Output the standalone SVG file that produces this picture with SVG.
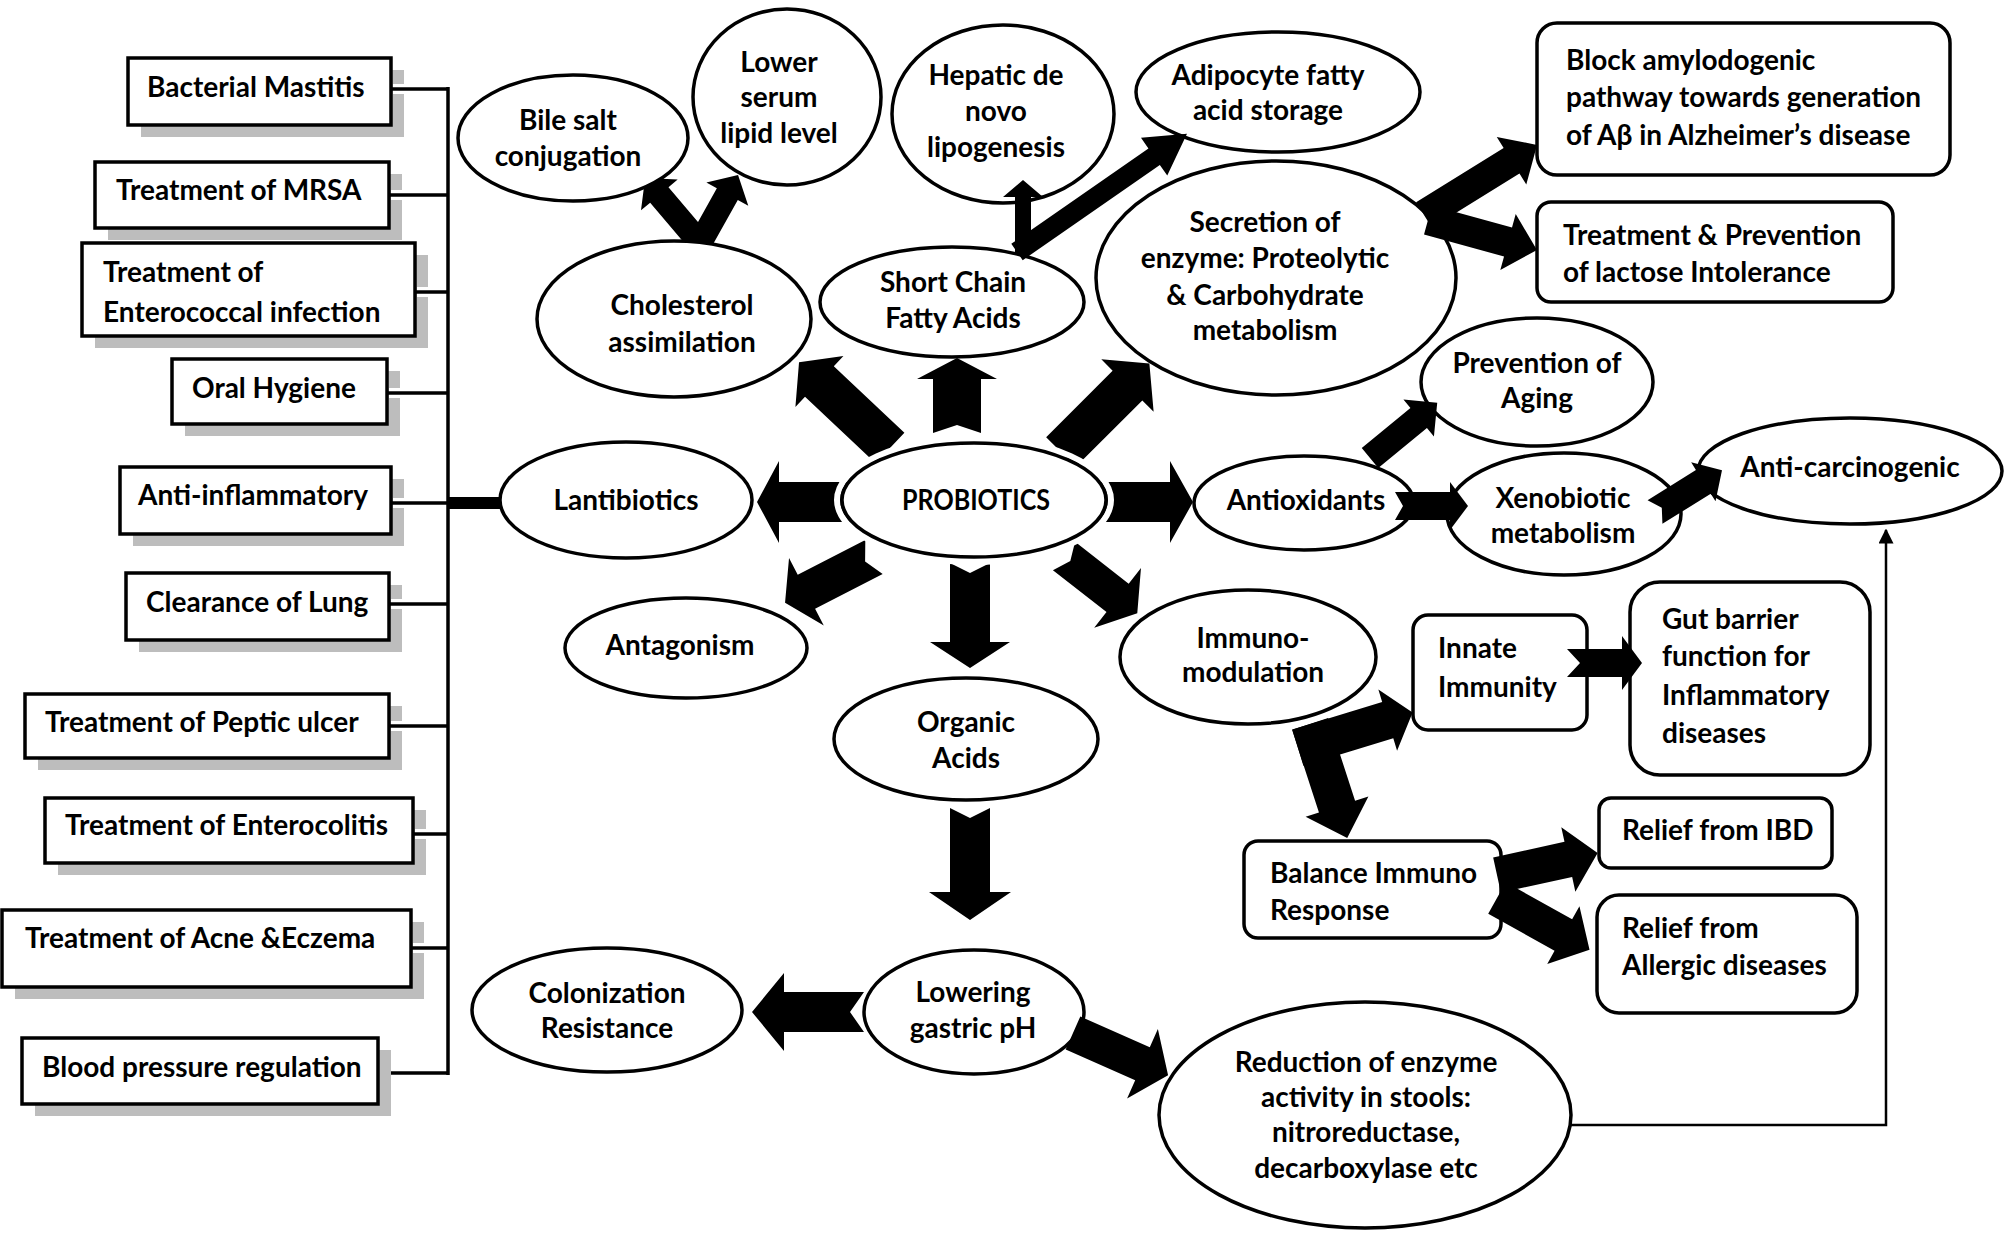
<svg xmlns="http://www.w3.org/2000/svg" width="2008" height="1233" viewBox="0 0 2008 1233">
<style>
.bx{fill:#fff;stroke:#000;stroke-width:3.5}
.rb{fill:#fff;stroke:#000;stroke-width:3.5}
.el{fill:#fff;stroke:#000;stroke-width:3.5}
.sh{fill:#bdbdbd}
.t{font-family:Lato,"Open Sans",sans-serif;font-weight:bold;font-size:28px;fill:#000}
.m{text-anchor:middle}
.ar{fill:#000}
.ln{stroke:#000;stroke-width:3.5;fill:none}
.gap{stroke:#fff;stroke-width:10}
.thin{stroke:#000;stroke-width:2.5;fill:none}
</style>
<defs>
<marker id="tri" viewBox="0 0 10 10" refX="9" refY="5" markerWidth="6" markerHeight="6" orient="auto" markerUnits="strokeWidth">
<path d="M0,0 L10,5 L0,10 Z" fill="#000"/>
</marker>
</defs>
<rect width="2008" height="1233" fill="#fff"/>

<!-- left side boxes -->
<g id="left-list">
<g id="n-mastitis"><rect class="sh" x="141" y="70" width="263" height="67"/><rect class="bx" x="128" y="58" width="263" height="67"/><text class="t" x="147" y="97">Bacterial Mastitis</text></g>
<g id="n-mrsa"><rect class="sh" x="108" y="174" width="294" height="66"/><rect class="bx" x="95" y="162" width="294" height="66"/><text class="t" x="116" y="200">Treatment of MRSA</text></g>
<g id="n-enterococcal"><rect class="sh" x="95" y="255" width="333" height="93"/><rect class="bx" x="82" y="243" width="333" height="93"/><text class="t" x="103" y="282">Treatment of</text><text class="t" x="103" y="322">Enterococcal infection</text></g>
<g id="n-oral"><rect class="sh" x="185" y="371" width="215" height="65"/><rect class="bx" x="172" y="359" width="215" height="65"/><text class="t" x="192" y="398">Oral Hygiene</text></g>
<g id="n-antiinflam"><rect class="sh" x="133" y="479" width="271" height="67"/><rect class="bx" x="120" y="467" width="271" height="67"/><text class="t" x="138" y="505">Anti-inflammatory</text></g>
<g id="n-lung"><rect class="sh" x="139" y="585" width="263" height="67"/><rect class="bx" x="126" y="573" width="263" height="67"/><text class="t" x="146" y="612">Clearance of Lung</text></g>
<g id="n-peptic"><rect class="sh" x="38" y="706" width="364" height="64"/><rect class="bx" x="25" y="694" width="364" height="64"/><text class="t" x="45" y="732">Treatment of Peptic ulcer</text></g>
<g id="n-enterocolitis"><rect class="sh" x="58" y="810" width="368" height="65"/><rect class="bx" x="45" y="798" width="368" height="65"/><text class="t" x="65" y="835">Treatment of Enterocolitis</text></g>
<g id="n-acne"><rect class="sh" x="15" y="922" width="409" height="77"/><rect class="bx" x="2" y="910" width="409" height="77"/><text class="t" x="25" y="948">Treatment of Acne &amp;Eczema</text></g>
<g id="n-bp"><rect class="sh" x="35" y="1050" width="356" height="66"/><rect class="bx" x="22" y="1038" width="356" height="66"/><text class="t" x="42" y="1077">Blood pressure regulation</text></g>
</g>

<!-- connectors drawn beneath nodes -->
<g id="connectors">
<g id="left-bracket">
<line class="gap" x1="393" y1="89" x2="405" y2="89"/><line class="ln" x1="391" y1="89" x2="448" y2="89"/>
<line class="gap" x1="391" y1="195" x2="403" y2="195"/><line class="ln" x1="389" y1="195" x2="448" y2="195"/>
<line class="gap" x1="417" y1="292" x2="429" y2="292"/><line class="ln" x1="415" y1="292" x2="448" y2="292"/>
<line class="gap" x1="389" y1="393" x2="401" y2="393"/><line class="ln" x1="387" y1="393" x2="448" y2="393"/>
<line class="gap" x1="393" y1="503" x2="405" y2="503"/><line class="ln" x1="391" y1="503" x2="448" y2="503"/>
<line class="gap" x1="391" y1="604" x2="403" y2="604"/><line class="ln" x1="389" y1="604" x2="448" y2="604"/>
<line class="gap" x1="391" y1="726" x2="403" y2="726"/><line class="ln" x1="389" y1="726" x2="448" y2="726"/>
<line class="gap" x1="415" y1="834" x2="427" y2="834"/><line class="ln" x1="413" y1="834" x2="448" y2="834"/>
<line class="gap" x1="413" y1="948" x2="425" y2="948"/><line class="ln" x1="411" y1="948" x2="448" y2="948"/>
<line class="gap" x1="393" y1="1073" x2="405" y2="1073"/><line class="ln" x1="391" y1="1073" x2="448" y2="1073"/>
<line class="ln" x1="448" y1="87" x2="448" y2="1075"/>
<rect x="448" y="497" width="56" height="12" fill="#000"/>
</g>
<g id="under-arrows">
<path class="ar" transform="translate(890,448) rotate(223.3)" d="M0,-21 L97,-21 L97,-35 L125,0 L97,35 L97,21 L0,21 Z"/>
<path class="ar" transform="translate(957,433) rotate(-90)" d="M0,-24 L54,-24 L54,-40 L75,0 L54,40 L54,24 L0,24 L8,0 Z"/>
<path class="ar" transform="translate(1061,452) rotate(-45)" d="M0,-21 L94,-21 L94,-37 L125,0 L94,37 L94,21 L0,21 Z"/>
<path class="ar" transform="translate(850,502) rotate(180)" d="M0,-20 L71,-20 L71,-41 L93,0 L71,41 L71,20 L0,20 Z"/>
<path class="ar" transform="translate(1100,502)" d="M0,-20 L70,-20 L70,-41 L93,0 L70,41 L70,20 L0,20 Z"/>
<path class="ar" transform="translate(874,557) rotate(152.8)" d="M0,-19 L76,-19 L76,-38 L100,0 L76,38 L76,19 L0,19 L10,0 Z"/>
<path class="ar" transform="translate(970,563) rotate(90)" d="M0,-20 L79,-20 L79,-40 L105,0 L79,40 L79,20 L0,20 L10,0 Z"/>
<path class="ar" transform="translate(1064,556) rotate(38)" d="M0,-18 L68,-18 L68,-38 L93,0 L68,38 L68,18 L0,18 L8,0 Z"/>
<path class="ar" transform="translate(700,243) rotate(229.8)" d="M-6,-12 L63,-12 L63,-24 L85,0 L63,24 L63,12 L-6,12 Z"/>
<path class="ar" transform="translate(700,243) rotate(-60.8)" d="M-6,-12 L56,-12 L56,-24 L78,0 L56,24 L56,12 L-6,12 Z"/>
</g>
</g>

<!-- ellipse nodes -->
<g id="n-bile"><ellipse class="el" cx="573" cy="138" rx="115" ry="63"/><text class="t m" x="568" y="130">Bile salt</text><text class="t m" x="568" y="166">conjugation</text></g>
<g id="n-lower"><ellipse class="el" cx="787" cy="97" rx="94" ry="88"/><text class="t m" x="779" y="72">Lower</text><text class="t m" x="779" y="107">serum</text><text class="t m" x="779" y="143">lipid level</text></g>
<g id="n-hepatic"><ellipse class="el" cx="1003" cy="114" rx="111" ry="89"/><text class="t m" x="996" y="85">Hepatic de</text><text class="t m" x="996" y="121">novo</text><text class="t m" x="996" y="157">lipogenesis</text></g>
<g id="n-adipocyte"><ellipse class="el" cx="1278" cy="92" rx="142" ry="60"/><text class="t m" x="1268" y="85">Adipocyte fatty</text><text class="t m" x="1268" y="120">acid storage</text></g>
<g id="n-cholesterol"><ellipse class="el" cx="674" cy="319" rx="137" ry="78"/><text class="t m" x="682" y="315">Cholesterol</text><text class="t m" x="682" y="352">assimilation</text></g>
<g id="n-scfa"><ellipse class="el" cx="952" cy="302" rx="132" ry="55"/><text class="t m" x="953" y="292">Short Chain</text><text class="t m" x="953" y="328">Fatty Acids</text></g>
<g id="n-secretion"><ellipse class="el" cx="1276" cy="278" rx="180" ry="117"/><text class="t m" x="1265" y="232">Secretion of</text><text class="t m" x="1265" y="268">enzyme: Proteolytic</text><text class="t m" x="1265" y="305">&amp; Carbohydrate</text><text class="t m" x="1265" y="340">metabolism</text></g>
<g id="n-aging"><ellipse class="el" cx="1537" cy="382" rx="116" ry="64"/><text class="t m" x="1537" y="373">Prevention of</text><text class="t m" x="1537" y="408">Aging</text></g>
<g id="n-lantibiotics"><ellipse class="el" cx="626" cy="500" rx="126" ry="58"/><text class="t m" x="626" y="510">Lantibiotics</text></g>
<g id="n-probiotics"><ellipse cx="974" cy="500" rx="137" ry="62" fill="none" stroke="#fff" stroke-width="6"/><ellipse class="el" cx="974" cy="500" rx="132" ry="57" stroke-width="4"/><text class="t m" x="976" y="510" textLength="148" lengthAdjust="spacingAndGlyphs">PROBIOTICS</text></g>
<g id="n-antioxidants"><ellipse class="el" cx="1304" cy="503" rx="110" ry="47"/><text class="t m" x="1306" y="510">Antioxidants</text></g>
<g id="n-xenobiotic"><ellipse class="el" cx="1564" cy="514" rx="117" ry="61"/><text class="t m" x="1563" y="508">Xenobiotic</text><text class="t m" x="1563" y="543">metabolism</text></g>
<g id="n-anticarcinogenic"><ellipse class="el" cx="1850" cy="471" rx="152" ry="53"/><text class="t m" x="1850" y="477">Anti-carcinogenic</text></g>
<g id="n-antagonism"><ellipse class="el" cx="686" cy="648" rx="121" ry="50"/><text class="t m" x="680" y="655">Antagonism</text></g>
<g id="n-immuno"><ellipse class="el" cx="1248" cy="657" rx="128" ry="67"/><text class="t m" x="1253" y="648">Immuno-</text><text class="t m" x="1253" y="682">modulation</text></g>
<g id="n-organic"><ellipse class="el" cx="966" cy="739" rx="132" ry="61"/><text class="t m" x="966" y="732">Organic</text><text class="t m" x="966" y="768">Acids</text></g>
<g id="n-colonization"><ellipse class="el" cx="607" cy="1010" rx="135" ry="62"/><text class="t m" x="607" y="1003">Colonization</text><text class="t m" x="607" y="1038">Resistance</text></g>
<g id="n-lowering"><ellipse class="el" cx="974" cy="1012" rx="110" ry="62"/><text class="t m" x="973" y="1002">Lowering</text><text class="t m" x="973" y="1038">gastric pH</text></g>
<g id="n-reduction"><ellipse class="el" cx="1365" cy="1115" rx="206" ry="113"/><text class="t m" x="1366" y="1072">Reduction of enzyme</text><text class="t m" x="1366" y="1107">activity in stools:</text><text class="t m" x="1366" y="1142">nitroreductase,</text><text class="t m" x="1366" y="1178">decarboxylase etc</text></g>

<!-- rounded boxes -->
<g id="n-alzheimer"><rect class="rb" x="1537" y="23" width="413" height="152" rx="20"/><text class="t" x="1566" y="70">Block amylodogenic</text><text class="t" x="1566" y="107">pathway towards generation</text><text class="t" x="1566" y="145">of Aβ in Alzheimer’s disease</text></g>
<g id="n-lactose"><rect class="rb" x="1537" y="202" width="356" height="100" rx="14"/><text class="t" x="1563" y="245">Treatment &amp; Prevention</text><text class="t" x="1563" y="282">of lactose Intolerance</text></g>
<g id="n-innate"><rect class="rb" x="1413" y="615" width="174" height="115" rx="15"/><text class="t" x="1438" y="658">Innate</text><text class="t" x="1438" y="697">Immunity</text></g>
<g id="n-gut"><rect class="rb" x="1630" y="582" width="240" height="193" rx="30"/><text class="t" x="1662" y="629">Gut barrier</text><text class="t" x="1662" y="666">function for</text><text class="t" x="1662" y="705">Inflammatory</text><text class="t" x="1662" y="743">diseases</text></g>
<g id="n-balance"><rect class="rb" x="1244" y="841" width="257" height="97" rx="14"/><text class="t" x="1270" y="883">Balance Immuno</text><text class="t" x="1270" y="920">Response</text></g>
<g id="n-ibd"><rect class="rb" x="1599" y="798" width="233" height="70" rx="12"/><text class="t" x="1622" y="840">Relief from IBD</text></g>
<g id="n-allergic"><rect class="rb" x="1597" y="895" width="260" height="118" rx="22"/><text class="t" x="1622" y="938">Relief from</text><text class="t" x="1622" y="975">Allergic diseases</text></g>

<!-- connectors drawn over nodes -->
<g id="connectors-over">
<path class="ar" transform="translate(1023,254) rotate(-90)" d="M0,-8 L57,-8 L57,-20 L74,0 L57,20 L57,8 L0,8 Z"/>
<path class="ar" transform="translate(1017,252) rotate(-34.8)" d="M0,-10 L167,-10 L167,-23 L207,0 L167,23 L167,10 L0,10 Z"/>
<path class="ar" transform="translate(1424,215) rotate(-31.8)" d="M0,-15 L103,-15 L103,-28 L133,0 L103,28 L103,15 L0,15 Z"/>
<path class="ar" transform="translate(1428,220) rotate(15.4)" d="M0,-15 L83,-15 L83,-29 L113,0 L83,29 L83,15 L0,15 Z"/>
<path class="ar" transform="translate(1370,458) rotate(-39.4)" d="M0,-13 L63,-13 L63,-24 L87,0 L63,24 L63,13 L0,13 Z"/>
<path class="ar" transform="translate(1395,506)" d="M0,-14 L55,-14 L55,-24 L73,0 L55,24 L55,14 L0,14 L8,0 Z"/>
<path class="ar" transform="translate(1655,512) rotate(-32)" d="M0,-14 L57,-14 L57,-23 L79,0 L57,23 L57,14 L0,14 L8,0 Z"/>
<path class="ar" transform="translate(1567,663)" d="M0,-14 L55,-14 L55,-27 L75,0 L55,27 L55,14 L0,14 L13,0 Z"/>
<path class="ar" transform="translate(1316,742) rotate(-17)" d="M-19,-19 L75,-19 L75,-32 L101,0 L75,32 L75,19 L-19,19 Z"/>
<path class="ar" transform="translate(1316,742) rotate(72)" d="M-19,-19 L68,-19 L68,-33 L101,0 L68,33 L68,19 L-19,19 Z"/>
<path class="ar" transform="translate(1497,875) rotate(-12.3)" d="M0,-18 L73,-18 L73,-33 L103,0 L73,33 L73,18 L0,18 Z"/>
<path class="ar" transform="translate(1497,898) rotate(29.2)" d="M0,-18 L76,-18 L76,-33 L106,0 L76,33 L76,18 L0,18 Z"/>
<path class="ar" transform="translate(970,808) rotate(90)" d="M0,-20 L84,-20 L84,-41 L112,0 L84,41 L84,20 L0,20 L10,0 Z"/>
<path class="ar" transform="translate(864,1012) rotate(180)" d="M0,-20 L80,-20 L80,-39 L112,0 L80,39 L80,20 L0,20 L14,0 Z"/>
<path class="ar" transform="translate(1073,1033) rotate(23.9)" d="M0,-18 L76,-18 L76,-38 L104,0 L76,38 L76,18 L0,18 Z"/>
<polyline class="thin" points="1571,1125 1886,1125 1886,530" marker-end="url(#tri)"/>
</g>
</svg>
